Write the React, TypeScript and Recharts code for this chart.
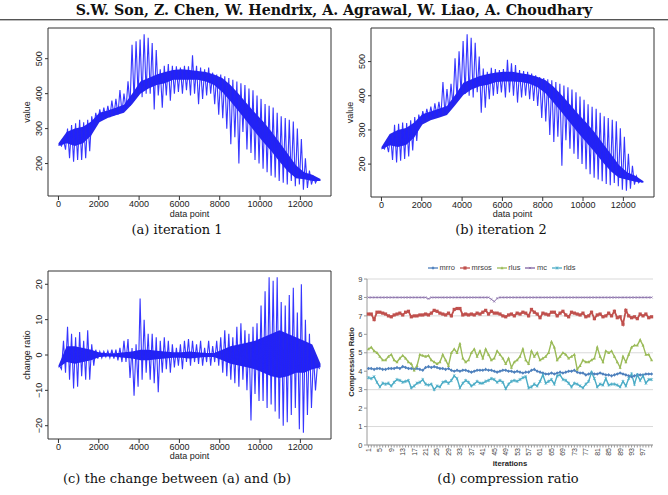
import React from 'react';
import { ComposedChart, LineChart, Line, Area, XAxis, YAxis, CartesianGrid, ReferenceArea } from 'recharts';

const SANS = '"Liberation Sans", Arial, Helvetica, sans-serif';
const SERIF = '"DejaVu Serif", "Liberation Serif", serif';
const INK = '#333333';

// ---------- value traces (iteration 1, iteration 2, change ratio) ----------
const POINT_COUNT = 13000;
const POSITION_TICKS = [0, 2000, 4000, 6000, 8000, 10000, 12000];
const VALUE_TICKS = [200, 300, 400, 500];
const CHANGE_TICKS = [-20, -10, 0, 10, 20];

// dense core band, sampled evenly along the run (lower / upper edge)
const iter1BandLo = [250, 258, 250, 258, 280, 318, 330, 338, 345, 370, 400, 415, 425, 430, 440, 440, 440, 440, 435, 425, 405, 378, 350, 320, 290, 262, 235, 205, 178, 158, 155, 150, 150];
const iter1BandHi = [258, 290, 300, 305, 320, 345, 352, 360, 368, 400, 435, 445, 455, 462, 468, 470, 468, 465, 462, 455, 445, 425, 400, 372, 345, 320, 292, 260, 228, 195, 175, 168, 156];
// periodic spikes around the band (top / bottom of each stroke)
const iter1SpikeHi = [
  258, 268, 300, 310, 315, 325, 318, 325, 335, 345,
  355, 360, 365, 380, 385, 410, 400, 435, 540, 550,
  555, 570, 560, 545, 525, 470, 480, 485, 480, 478,
  475, 480, 478, 510, 480, 475, 470, 475, 460, 455,
  455, 450, 445, 440, 435, 430, 425, 415, 410, 395,
  385, 370, 365, 360, 345, 335, 330, 325, 320, 300,
  270, 215, 180, 162, 156,
];
const iter1SpikeLo = [
  250, 240, 215, 205, 210, 210, 215, 235, 300, 318,
  325, 330, 333, 338, 340, 345, 355, 365, 380, 395,
  390, 400, 400, 355, 395, 360, 395, 380, 400, 405,
  400, 410, 395, 400, 370, 385, 395, 400, 370, 340,
  330, 300, 255, 275, 200, 290, 240, 230, 210, 200,
  185, 175, 165, 160, 150, 145, 140, 150, 135, 140,
  125, 130, 140, 145, 152,
];

const iter2BandLo = [243, 255, 250, 256, 278, 316, 328, 336, 344, 372, 402, 418, 428, 432, 440, 442, 442, 440, 436, 426, 408, 380, 352, 322, 292, 264, 236, 206, 179, 160, 154, 148, 146];
const iter2BandHi = [250, 288, 300, 306, 322, 346, 354, 362, 370, 402, 438, 448, 458, 464, 468, 470, 470, 466, 462, 456, 446, 427, 402, 375, 347, 322, 294, 262, 230, 197, 176, 166, 150];
const iter2SpikeHi = [
  250, 262, 285, 315, 318, 322, 320, 328, 338, 345,
  355, 362, 368, 378, 382, 440, 420, 435, 510, 530,
  560, 580, 570, 555, 515, 480, 470, 482, 478, 475,
  478, 505, 495, 490, 475, 472, 470, 465, 460, 455,
  452, 448, 445, 440, 435, 430, 425, 418, 410, 398,
  388, 375, 368, 362, 350, 340, 335, 330, 325, 305,
  280, 230, 195, 165, 150,
];
const iter2SpikeLo = [
  244, 235, 212, 205, 210, 215, 222, 240, 268, 320,
  328, 333, 335, 340, 342, 345, 355, 370, 385, 400,
  405, 400, 395, 410, 350, 365, 390, 400, 405, 410,
  395, 410, 400, 380, 395, 400, 390, 385, 370, 335,
  325, 285, 265, 280, 195, 270, 245, 230, 215, 200,
  185, 170, 160, 155, 150, 142, 138, 145, 135, 125,
  122, 128, 140, 145, 146,
];

const changeBandLo = [-3.6, -2, -2.5, -2, -1.5, -0.6, -0.4, -0.5, -0.8, -1, -1.5, -1.5, -1.2, -1, -0.8, -0.8, -1, -0.8, -0.6, -0.6, -1.5, -2.5, -3, -3.5, -4, -5, -6, -6.5, -6, -5, -5, -4, -3.5];
const changeBandHi = [-3, 2.5, 2.5, 2, 1.5, 0.7, 0.5, 0.5, 0.8, 1, 1.5, 1.5, 1.2, 1, 0.8, 0.8, 1, 0.8, 0.6, 0.6, 1.5, 2.5, 3, 3.5, 4, 5, 6, 7, 6, 5, 4, 3, -2.5];
const changeSpikeHi = [
  -3, 4, 8, 6, 5, 6.5, 4, 7, 3, 1.5,
  1, 1, 1.2, 1.5, 1.5, 2, 4, 4.5, 2, 3,
  16, 10, 6, 6, 5, 4, 5, 4, 3, 2,
  3, 4, 4.5, 4, 3, 4, 2, 4, 2.5, 4,
  5, 7, 6, 5, 8, 9, 7, 6, 8, 9,
  14, 18, 22, 21, 22, 15, 14, 17, 19, 12,
  20, 10, 6, 0, -2.5,
];
const changeSpikeLo = [
  -4, -5, -7, -9.5, -9, -6, -7, -7, -3, -1,
  -0.8, -0.5, -0.8, -1, -1.5, -2, -2, -6.5, -11.5, -9,
  -7, -5, -7, -8, -10.5, -5, -4, -5, -3.5, -3,
  -4, -2, -3, -2, -2.5, -3, -2, -3, -2, -3,
  -5, -6, -7, -8, -9, -7, -10, -18.5, -11, -13,
  -13, -15, -14, -16, -18, -20, -19, -17, -15, -21,
  -22, -17, -15, -10, -4,
];

// ---------- compression ratio per iteration ----------
const ITERATIONS = Array.from({ length: 100 }, (_, i) => i + 1);
const RATIO_TICKS = [0, 1, 2, 3, 4, 5, 6, 7, 8, 9];

const mrroRatio = [
  4.15, 4.15, 4.1, 4.15, 4.15, 4.1, 4.1, 4.15, 4.15, 4.15,
  4.2, 4.15, 4.25, 4.2, 4.15, 4.15, 4.1, 4.15, 4.1, 4.05,
  4.2, 4.25, 4.2, 4.25, 4.2, 4.15, 4.15, 4.1, 4.15, 4.05,
  4.0, 4.05, 4.0, 4.05, 4.05, 4.0, 3.95, 4.0, 4.05, 4.05,
  4.05, 4.1, 4.05, 4.05, 4.0, 3.95, 4.0, 4.05, 4.05, 4.0,
  4.0, 3.95, 4.0, 3.95, 3.9, 3.95, 3.95, 4.05, 4.1, 4.0,
  3.95, 3.9, 3.85, 3.85, 3.9, 3.85, 3.9, 3.95, 3.9, 3.95,
  4.0, 4.0, 4.05, 3.95, 3.9, 3.9, 3.8, 3.85, 3.9, 3.85,
  3.85, 3.9, 3.85, 3.8, 3.8, 3.75, 3.8, 3.85, 3.9, 3.85,
  3.8, 3.75, 3.7, 3.75, 3.8, 3.8, 3.8, 3.85, 3.85, 3.85,
];
const mrsosRatio = [
  7.1, 7.1, 6.8, 7.2, 7.2, 7.15, 7.1, 7.0, 6.95, 7.05,
  7.1, 7.15, 7.05, 7.2, 7.25, 6.95, 7.0, 7.0, 7.05, 7.05,
  7.1, 7.05, 7.15, 7.3, 7.25, 7.15, 7.1, 7.05, 7.15, 7.0,
  7.35, 7.4, 7.4, 7.05, 7.1, 7.05, 7.1, 7.05, 7.15, 7.1,
  7.2, 7.3, 7.1, 7.25, 7.15, 7.15, 7.1, 7.0, 6.95, 7.05,
  7.1, 7.0, 7.15, 7.1, 7.2, 7.15, 7.0, 7.35, 7.2, 7.1,
  6.9, 7.15, 7.1, 7.05, 7.2, 7.2, 7.0, 7.15, 7.25, 7.05,
  6.95, 7.2, 7.15, 7.1, 7.05, 7.15, 6.95, 7.0, 7.2, 6.85,
  7.05, 7.1, 6.95, 7.0, 7.15, 7.0, 7.25, 6.9, 6.95, 6.55,
  7.3, 7.0, 6.9, 6.95, 6.85, 7.1, 7.0, 7.1, 6.9, 6.95,
];
const rlusRatio = [
  5.2, 5.3, 5.1, 5.0, 4.8, 4.6, 4.6, 4.8, 4.9, 4.6,
  4.5, 4.7, 4.85, 4.7, 4.5, 4.4, 4.05, 4.3, 4.9, 4.85,
  4.8, 4.85, 4.6, 4.5, 4.4, 4.5, 4.9, 4.6, 4.3, 5.0,
  5.2, 5.0, 5.5, 4.7, 4.5, 4.6, 5.0, 5.2, 4.8, 5.1,
  4.7, 5.2, 4.9, 4.6, 4.7, 5.1, 4.9, 4.7, 4.4, 4.7,
  4.2, 4.5, 4.6, 4.8, 5.2, 4.6, 4.4, 5.1, 4.8, 5.0,
  4.6, 4.7, 4.8, 5.0, 5.6, 5.3, 4.6, 4.8, 5.0, 4.9,
  4.7, 4.8, 4.9, 4.1, 4.3, 4.6, 4.5, 4.5, 4.6, 4.7,
  5.3, 4.8, 4.5, 5.1, 5.0, 5.1, 4.8, 4.5, 4.2, 4.8,
  4.5, 4.9, 5.3, 5.4, 5.4, 5.7, 5.4, 4.9, 4.9, 4.6,
];
const mcRatio = [
  8, 8, 8, 8, 8, 8, 8, 8, 8, 8,
  8, 8, 8, 8, 8, 8, 8, 8, 8, 8,
  8, 7.93, 8, 8, 8, 8, 8, 8, 8, 8,
  8, 8, 8, 8, 8, 8, 8, 8, 8, 8,
  8, 8, 8, 7.9, 7.78, 7.95, 8, 8, 8, 8,
  8, 8, 8, 8, 8, 8, 8, 8, 8, 8,
  8, 8, 8, 8, 8, 8, 8, 8, 8, 8,
  8, 8, 8, 8, 8, 8, 8, 8, 8, 8,
  8, 8, 8, 8, 8, 8, 8, 8, 8, 8,
  8, 8, 8, 8, 8, 8, 8, 8, 8, 8,
];
const rldsRatio = [
  3.65, 3.6, 3.7, 3.4, 3.15, 3.35, 3.3, 3.35, 3.2, 3.4,
  3.55, 3.5, 3.4, 3.45, 3.5, 3.1, 3.2, 3.35, 3.4, 3.55,
  3.3, 3.25, 3.3, 3.0, 3.2, 3.15, 3.4, 3.45, 3.35, 3.5,
  3.75, 3.6, 3.1, 3.35, 3.5, 3.4, 3.2, 3.3, 3.45, 3.35,
  3.35, 3.45, 3.5, 3.6, 3.55, 3.4, 3.5, 3.4, 3.05, 3.3,
  3.45, 3.5, 3.45, 3.55, 3.65, 3.7, 3.1, 3.15, 3.3, 3.2,
  3.45, 3.8, 3.35, 3.45, 3.55, 3.3, 3.75, 3.8, 3.55, 3.5,
  3.35, 3.15, 3.35, 3.3, 3.2, 3.1, 3.3, 3.45, 3.95, 3.6,
  3.15, 3.3, 3.25, 3.6, 3.25, 3.3, 3.3, 3.25, 3.15, 3.45,
  3.2, 3.6, 3.85, 3.3, 3.8, 3.5, 3.75, 3.35, 3.55, 3.55,
];

type Shape = 'diamond' | 'square' | 'triangle' | 'cross' | 'star';
const RATIO_SERIES: { key: string; values: number[]; color: string; shape: Shape; width: number; size: number }[] = [
  { key: 'mrro', values: mrroRatio, color: '#4f81bd', shape: 'diamond', width: 1.4, size: 1.5 },
  { key: 'mrsos', values: mrsosRatio, color: '#c0504d', shape: 'square', width: 1.8, size: 1.6 },
  { key: 'rlus', values: rlusRatio, color: '#9bbb59', shape: 'triangle', width: 1.4, size: 1.5 },
  { key: 'mc', values: mcRatio, color: '#8064a2', shape: 'cross', width: 0.8, size: 1.1 },
  { key: 'rlds', values: rldsRatio, color: '#4bacc6', shape: 'star', width: 1.4, size: 1.3 },
];

const ratioRows = ITERATIONS.map((iteration, i) => {
  const row: Record<string, number> = { iteration };
  RATIO_SERIES.forEach((s) => { row[s.key] = s.values[i]; });
  return row;
});

// ---------- helpers ----------
const padRange = (min: number, max: number): [number, number] => {
  const r = max - min;
  return [min - 0.04 * r, max + 0.04 * r];
};
const X_DOMAIN = padRange(1, POINT_COUNT);

function bandRows(lo: number[], hi: number[]) {
  const step = POINT_COUNT / (lo.length - 1);
  return lo.map((v, i) => ({ x: i * step, band: [v, hi[i]] }));
}

// each stroke runs from its top to its bottom, then on to the next top
function spikeRows(hi: number[], lo: number[]) {
  const step = POINT_COUNT / hi.length;
  const rows: { x: number; spike: number }[] = [];
  hi.forEach((h, i) => {
    rows.push({ x: (i + 0.25) * step, spike: h });
    rows.push({ x: (i + 0.75) * step, spike: lo[i] });
  });
  return rows;
}

const fmtSigned = (v: number) => (v < 0 ? `\u2212${Math.abs(v)}` : `${v}`);

function RotatedTick(props: any) {
  const { x, y, payload } = props;
  const bx = x - 1;
  return (
    <text x={bx} y={y} transform={`rotate(-90, ${bx}, ${y})`} textAnchor="middle" fontSize={9} fontFamily={SANS} fill="#222">
      {fmtSigned(payload.value)}
    </text>
  );
}

function SideTitle(props: any) {
  const { viewBox, text, inset, size, weight, color } = props;
  const x = viewBox.x + inset;
  const y = viewBox.y + viewBox.height / 2;
  return (
    <text x={x} y={y} transform={`rotate(-90, ${x}, ${y})`} textAnchor="middle" fontSize={size} fontWeight={weight} fontFamily={SANS} fill={color}>
      {text}
    </text>
  );
}

function BottomTitle(props: any) {
  const { viewBox, text, drop, size, weight, color } = props;
  return (
    <text x={viewBox.x + viewBox.width / 2} y={viewBox.y + drop} textAnchor="middle" fontSize={size} fontWeight={weight} fontFamily={SANS} fill={color}>
      {text}
    </text>
  );
}

type TraceProps = {
  left: number; top: number; height: number; marginTop: number; titleDrop: number;
  bandLo: number[]; bandHi: number[]; spikeHi: number[]; spikeLo: number[];
  yTicks: number[]; yTitle: string;
};

function TracePanel(p: TraceProps) {
  const band = bandRows(p.bandLo, p.bandHi);
  const spikes = spikeRows(p.spikeHi, p.spikeLo);
  const all = [...p.bandLo, ...p.bandHi, ...p.spikeHi, ...p.spikeLo];
  const yDomain = padRange(Math.min(...all), Math.max(...all));
  return (
    <div style={{ position: 'absolute', left: p.left, top: p.top }}>
      <ComposedChart width={320} height={p.height} margin={{ top: p.marginTop, right: 9, bottom: 0, left: 0 }}>
        <XAxis
          type="number" dataKey="x" domain={X_DOMAIN} ticks={POSITION_TICKS} allowDataOverflow
          axisLine={false} tickLine={{ stroke: INK }} tickSize={4} tickMargin={1} height={29}
          tick={{ fontSize: 9, fill: '#222', fontFamily: SANS }}
          label={<BottomTitle text="data point" drop={p.titleDrop} size={9} weight={400} color="#222" />}
        />
        <YAxis
          type="number" domain={yDomain} ticks={p.yTicks} allowDataOverflow
          axisLine={false} tickLine={{ stroke: INK }} tickSize={3} tickMargin={2} width={28}
          tick={<RotatedTick />}
          label={<SideTitle text={p.yTitle} inset={10} size={9} weight={400} color="#222" />}
        />
        <Area data={band} dataKey="band" type="linear" stroke="none" fill="#0000e8" fillOpacity={0.85} isAnimationActive={false} />
        <Line data={spikes} dataKey="spike" type="linear" stroke="#2020ff" strokeWidth={1.1} strokeOpacity={0.9} dot={false} activeDot={false} isAnimationActive={false} />
        <ReferenceArea x1={X_DOMAIN[0]} x2={X_DOMAIN[1]} y1={yDomain[0]} y2={yDomain[1]} fill="none" stroke={INK} strokeWidth={1} />
      </ComposedChart>
    </div>
  );
}

function markerShape(shape: Shape, cx: number, cy: number, color: string, s: number) {
  switch (shape) {
    case 'diamond':
      return <path d={`M${cx},${cy - s * 1.2}L${cx + s},${cy}L${cx},${cy + s * 1.2}L${cx - s},${cy}Z`} fill={color} />;
    case 'square':
      return <rect x={cx - s} y={cy - s} width={2 * s} height={2 * s} fill={color} />;
    case 'triangle':
      return <path d={`M${cx},${cy - s * 1.2}L${cx + s},${cy + s * 0.8}L${cx - s},${cy + s * 0.8}Z`} fill={color} />;
    case 'cross':
      return <path d={`M${cx - s},${cy - s}L${cx + s},${cy + s}M${cx - s},${cy + s}L${cx + s},${cy - s}`} stroke={color} strokeWidth={0.6} fill="none" />;
    default:
      return <path d={`M${cx - s},${cy - s}L${cx + s},${cy + s}M${cx - s},${cy + s}L${cx + s},${cy - s}M${cx},${cy - s * 1.3}L${cx},${cy + s * 1.3}`} stroke={color} strokeWidth={0.7} fill="none" />;
  }
}

function IterationTick(props: any) {
  const { x, y, payload } = props;
  if ((payload.value - 1) % 4 !== 0) return null;
  const bx = x + 2.4;
  return (
    <text x={bx} y={y} transform={`rotate(-90, ${bx}, ${y})`} textAnchor="end" fontSize={7} fontFamily={SANS} fill="#404040">
      {payload.value}
    </text>
  );
}

function RatioLegend() {
  return (
    <div style={{ position: 'absolute', left: 428, top: 263, height: 10, display: 'flex', alignItems: 'center', gap: 5, fontFamily: SANS, fontSize: 7.5, color: '#404040', lineHeight: '10px' }}>
      {RATIO_SERIES.map((s) => (
        <div key={s.key} style={{ display: 'flex', alignItems: 'center', gap: 1.5 }}>
          <svg width={10} height={8} style={{ display: 'block' }}>
            <line x1={0} y1={4} x2={10} y2={4} stroke={s.color} strokeWidth={1.3} />
            {markerShape(s.shape, 5, 4, s.color, s.size)}
          </svg>
          <span>{s.key}</span>
        </div>
      ))}
    </div>
  );
}

function RatioPanel() {
  return (
    <div style={{ position: 'absolute', left: 340, top: 250 }}>
      <LineChart width={328} height={230} data={ratioRows} margin={{ top: 29, right: 15, bottom: 10, left: 0 }}>
        <CartesianGrid vertical={false} stroke="#d9d9d9" strokeWidth={1} />
        <XAxis
          dataKey="iteration" interval={0} padding={{ left: 1.4, right: 1.4 }}
          axisLine={{ stroke: '#9a9a9a' }} tickLine={{ stroke: '#9a9a9a' }} tickSize={2.5} tickMargin={0.5} height={25}
          tick={<IterationTick />}
          label={<BottomTitle text="iterations" drop={21} size={7.7} weight={700} color="#262626" />}
        />
        <YAxis
          domain={[0, 9]} ticks={RATIO_TICKS} width={27}
          axisLine={{ stroke: '#9a9a9a' }} tickLine={{ stroke: '#9a9a9a' }} tickSize={3} tickMargin={1.5}
          tick={{ fontSize: 7.5, fill: '#404040', fontFamily: SANS }}
          label={<SideTitle text="Compression Ratio" inset={14} size={7.6} weight={700} color="#262626" />}
        />
        {RATIO_SERIES.map((s) => (
          <Line
            key={s.key} dataKey={s.key} type="linear" stroke={s.color} strokeWidth={s.width}
            isAnimationActive={false} activeDot={false}
            dot={(d: any) => <g key={`${s.key}-${d.index}`}>{markerShape(s.shape, d.cx, d.cy, s.color, s.size)}</g>}
          />
        ))}
      </LineChart>
    </div>
  );
}

function Caption({ text, cx, cy }: { text: string; cx: number; cy: number }) {
  return (
    <div style={{ position: 'absolute', left: cx - 150, top: cy - 9, width: 300, height: 18, lineHeight: '18px', textAlign: 'center', fontFamily: SERIF, fontSize: 13, color: '#111', whiteSpace: 'nowrap' }}>
      {text}
    </div>
  );
}

export default function App() {
  return (
    <div style={{ position: 'absolute', left: 0, top: 0, width: 668, height: 495, background: '#fff', overflow: 'hidden' }}>
      <div style={{ position: 'absolute', left: 0, top: 1, width: 668, height: 18, lineHeight: '18px', textAlign: 'center', fontFamily: SERIF, fontWeight: 700, fontSize: 14.2, color: '#111', whiteSpace: 'nowrap' }}>
        S.W. Son, Z. Chen, W. Hendrix, A. Agrawal, W. Liao, A. Choudhary
      </div>
      <div style={{ position: 'absolute', left: 0, top: 19, width: 668, height: 1, background: '#555' }} />
      <div style={{ position: 'absolute', left: 0, top: 20, width: 668, height: 1, background: '#bbb' }} />

      <TracePanel left={20} top={25} height={200} marginTop={3} titleDrop={20.5}
        bandLo={iter1BandLo} bandHi={iter1BandHi} spikeHi={iter1SpikeHi} spikeLo={iter1SpikeLo}
        yTicks={VALUE_TICKS} yTitle="value" />
      <TracePanel left={343} top={25} height={201} marginTop={3} titleDrop={20}
        bandLo={iter2BandLo} bandHi={iter2BandHi} spikeHi={iter2SpikeHi} spikeLo={iter2SpikeLo}
        yTicks={VALUE_TICKS} yTitle="value" />
      <TracePanel left={20} top={250} height={218} marginTop={21} titleDrop={20}
        bandLo={changeBandLo} bandHi={changeBandHi} spikeHi={changeSpikeHi} spikeLo={changeSpikeLo}
        yTicks={CHANGE_TICKS} yTitle="change ratio" />

      <RatioLegend />
      <RatioPanel />

      <Caption text="(a) iteration 1" cx={177} cy={230} />
      <Caption text="(b) iteration 2" cx={501} cy={230} />
      <Caption text="(c) the change between (a) and (b)" cx={177} cy={479} />
      <Caption text="(d) compression ratio" cx={508} cy={479} />
    </div>
  );
}
